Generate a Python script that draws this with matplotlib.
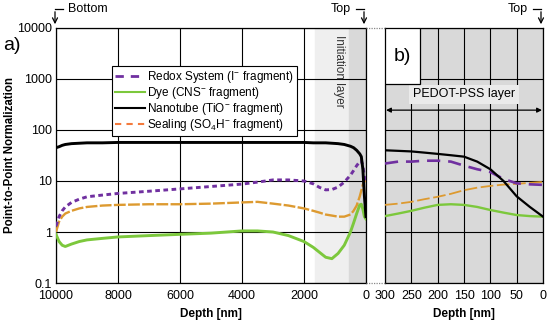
import matplotlib
matplotlib.use("Agg")
import matplotlib.pyplot as plt
from matplotlib.lines import Line2D
from matplotlib.patches import Rectangle, FancyArrowPatch

plt.rcParams.update({
    "font.family": ["Liberation Sans", "DejaVu Sans"],
    "font.size": 9,
    "mathtext.default": "regular",
})

# ---------------------------------------------------------------------------
# data
# ---------------------------------------------------------------------------
depth_a = [10000, 9900, 9800, 9700, 9500, 9250, 9000, 8500, 8000, 7000, 6000,
           5000, 4000, 3500, 3000, 2500, 2000, 1700, 1500, 1300, 1100, 900,
           700, 500, 400, 300, 200, 150, 100, 50, 0]
nanotube_a = [45, 47, 50, 52, 54, 55, 56, 56, 57, 57, 57, 57, 57, 57, 57, 57,
              57, 56, 56, 56, 55, 54, 52, 48, 45, 40, 34, 30, 17, 5, 2]
redox_a = [1.3, 2.0, 2.6, 3.1, 3.8, 4.4, 4.9, 5.3, 5.7, 6.3, 7.0, 7.8, 8.7,
           9.5, 10.5, 10.5, 10.0, 8.8, 7.5, 6.7, 6.8, 7.6, 9.5, 13, 16, 20,
           24, 25, 20, 12, 9]
dye_a = [0.9, 0.65, 0.55, 0.52, 0.58, 0.65, 0.7, 0.75, 0.8, 0.85, 0.9, 0.95,
         1.05, 1.05, 1.0, 0.85, 0.65, 0.5, 0.4, 0.32, 0.3, 0.38, 0.55, 1.0,
         1.5, 2.3, 3.4, 3.5, 2.8, 2.0, 1.8]
sealing_a = [1.0, 1.6, 2.0, 2.3, 2.6, 2.9, 3.1, 3.3, 3.4, 3.5, 3.5, 3.6, 3.8,
             3.9, 3.6, 3.3, 2.9, 2.6, 2.4, 2.2, 2.1, 2.0, 2.0, 2.2, 2.6, 3.3,
             5.0, 6.5, 8.5, 10, 10]

depth_b = [300, 275, 250, 225, 200, 175, 150, 125, 100, 75, 50, 25, 0]
nanotube_b = [40, 39, 38, 36, 34, 32, 30, 24, 17, 10, 5, 3.1, 2.0]
redox_b = [22, 24, 24, 25, 25, 24, 20, 17, 15, 11, 9, 8.6, 8.4]
dye_b = [2.05, 2.3, 2.6, 3.0, 3.4, 3.5, 3.4, 3.1, 2.7, 2.4, 2.15, 2.05, 2.0]
sealing_b = [3.4, 3.6, 3.9, 4.4, 4.9, 5.6, 6.6, 7.4, 8.0, 8.5, 8.8, 9.2, 9.6]

yticks = [0.1, 1, 10, 100, 1000, 10000]
ytick_labels = ["0.1", "1", "10", "100", "1000", "10000"]
xticks_a = [10000, 8000, 6000, 4000, 2000, 0]
xticks_b = [300, 250, 200, 150, 100, 50, 0]

labels = ["Redox System (I$^{-}$ fragment)", "Dye (CNS$^{-}$ fragment)",
          "Nanotube (TiO$^{-}$ fragment)", "Sealing (SO$_4$H$^{-}$ fragment)"]

PURPLE = "#7030a0"
GREEN = "#7cc83c"
GOLD = "#dd9a30"
ORANGE = "#f47a3c"

# ---------------------------------------------------------------------------
# figure
# ---------------------------------------------------------------------------
fig = plt.figure(figsize=(5.5, 3.22), dpi=100)
ax_a = fig.add_axes([0.1018, 0.1211, 0.5636, 0.792])
ax_b = fig.add_axes([0.700, 0.1211, 0.2873, 0.792])

for ax in (ax_a, ax_b):
    ax.set_yscale("log")
    ax.set_ylim(0.1, 10000)
    ax.set_yticks(yticks)
    ax.minorticks_off()
    ax.grid(True, color="black", linewidth=0.8)
    ax.set_axisbelow(True)
    ax.tick_params(axis="y", length=0, labelsize=9, pad=3)
    ax.tick_params(axis="x", length=0, labelsize=9, pad=5)
    for s in ax.spines.values():
        s.set_linewidth(0.9)

# panel a
ax_a.set_xlim(10000, 0)
ax_a.set_xticks(xticks_a)
ax_a.set_yticklabels(ytick_labels)
ax_a.axvspan(1650, 0, color="#efefef", zorder=0)
ax_a.axvspan(550, 0, color="#d9d9d9", zorder=0)
ax_a.plot(depth_a, sealing_a, color=GOLD, lw=1.7, dashes=(5, 1), zorder=3)
ax_a.plot(depth_a, dye_a, color=GREEN, lw=2.1, zorder=3)
ax_a.plot(depth_a, redox_a, color=PURPLE, lw=2.1, dashes=(1.6, 1.2), zorder=3)
ax_a.plot(depth_a, nanotube_a, color="black", lw=2.1, zorder=4)
ax_a.set_ylabel("Point-to-Point Normalization", fontweight="bold", fontsize=8.3)
ax_a.yaxis.set_label_coords(-0.128, 0.5)
ax_a.set_xlabel("Depth [nm]", fontweight="bold", fontsize=8.5, labelpad=4)
ax_a.text(860, 1400, "Initiation layer", rotation=-90, ha="center",
          va="center", fontsize=8.5, color="#333333")

handles = [
    Line2D([], [], color=PURPLE, lw=2, dashes=(3, 2.5)),
    Line2D([], [], color=GREEN, lw=1.5),
    Line2D([], [], color="black", lw=1.5),
    Line2D([], [], color=ORANGE, lw=1.5, dashes=(3, 2.5)),
]
leg = ax_a.legend(handles, labels, loc="upper left",
                  bbox_to_anchor=(0.18, 0.85), fontsize=8.5, frameon=True,
                  fancybox=False, framealpha=1, edgecolor="black",
                  borderpad=0.25, labelspacing=0.0, handlelength=2.6,
                  handletextpad=0.1, borderaxespad=0)
leg.get_frame().set_linewidth(0.8)

# panel b
ax_b.set_xlim(300, 0)
ax_b.set_xticks(xticks_b)
ax_b.set_yticklabels([])
ax_b.set_facecolor("#d9d9d9")
ax_b.plot(depth_b, dye_b, color=GREEN, lw=1.7, zorder=3)
ax_b.plot(depth_b, sealing_b, color=GOLD, lw=1.3, dashes=(7, 2), zorder=3)
ax_b.plot(depth_b, redox_b, color=PURPLE, lw=1.9, dashes=(5, 3), zorder=3)
ax_b.plot(depth_b, nanotube_b, color="black", lw=1.6, zorder=4)
ax_b.set_xlabel("Depth [nm]", fontweight="bold", fontsize=8.5, labelpad=4)
ax_b.text(150, 500, "PEDOT-PSS layer", ha="center", va="center",
          fontsize=9,
          bbox=dict(boxstyle="square,pad=0.3", fc="#ebebeb", ec="none"))
ax_b.annotate("", xy=(298, 245), xytext=(2, 245),
              arrowprops=dict(arrowstyle="<|-|>", color="black", lw=0.9,
                              mutation_scale=7, shrinkA=0, shrinkB=0))
ax_b.add_patch(Rectangle((0, 0.78), 0.22, 0.22, transform=ax_b.transAxes,
                         fc="white", ec="black", lw=0.9, zorder=5))
ax_b.text(0.11, 0.89, "b)", transform=ax_b.transAxes, ha="center",
          va="center", fontsize=14, zorder=6)

# panel label a)
fig.text(0.005, 0.86, "a)", fontsize=14, ha="left", va="center")

# dotted break lines between the panels
y_top = 1 - 28 / 322
y_bot = 1 - 283 / 322
for yy in (y_top, y_bot):
    fig.add_artist(Line2D([0.6655, 0.700], [yy, yy], transform=fig.transFigure,
                          color="#888888", lw=0.9, ls=(0, (1, 1))))


def hook_arrow(x, y_from, y_to, dx, label, side):
    """Bent arrow at the top of an axis, with its label."""
    fx = lambda px: px / 550
    fy = lambda py: 1 - py / 322
    fig.add_artist(Line2D([fx(x), fx(x + dx)], [fy(y_from), fy(y_from)],
                          transform=fig.transFigure, color="black", lw=0.9))
    fig.add_artist(FancyArrowPatch(
        (fx(x), fy(y_from)), (fx(x), fy(y_to)), transform=fig.transFigure,
        arrowstyle="->", mutation_scale=9, lw=0.9, color="black"))
    if side == "right":
        fig.text(fx(x + dx + 5), fy(y_from), label, ha="left", va="center",
                 fontsize=9)
    else:
        fig.text(fx(x + dx - 5), fy(y_from), label, ha="right", va="center",
                 fontsize=9)


hook_arrow(55, 9, 27, 8, "Bottom", "right")
hook_arrow(364, 9, 27, -8, "Top", "left")
hook_arrow(541, 9, 27, -8, "Top", "left")

fig.savefig("out.png", dpi=100)
